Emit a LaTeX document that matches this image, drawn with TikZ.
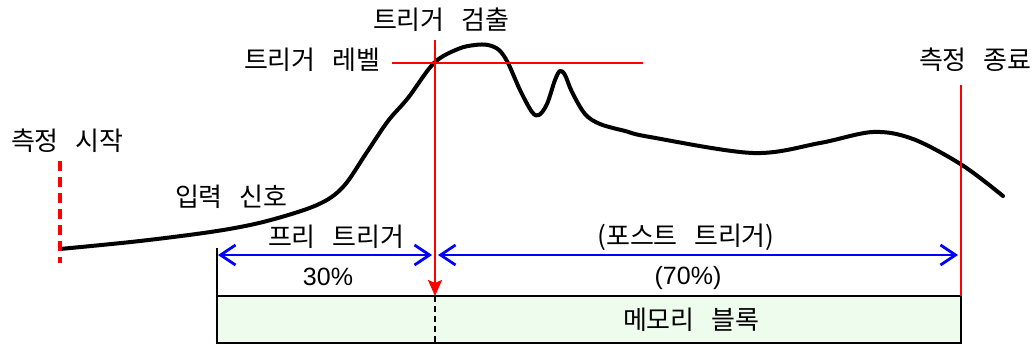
\documentclass[tikz,border=0pt]{standalone}
\usepackage{fontspec}
\newfontfamily\kr[WordSpace=2.8]{Noto Sans CJK KR}
\newfontfamily\ar{Liberation Sans}
\usetikzlibrary{arrows.meta}
\definecolor{memfill}{RGB}{238,252,238}
\definecolor{myred}{RGB}{255,0,0}
\definecolor{myblue}{RGB}{0,0,255}
\tikzset{
  lbl/.style={font=\kr\fontsize{26}{30}\selectfont, inner sep=0pt},
  num/.style={font=\ar\fontsize{25}{28}\selectfont, inner sep=0pt},
  sig/.style={line width=4pt, line join=round, line cap=round},
  redline/.style={myred, line width=2.5pt},
  bluearr/.style={myblue, line width=2.8pt, {Straight Barb[length=15pt,width=20pt,line width=2.8pt]}-{Straight Barb[length=15pt,width=20pt,line width=2.8pt]}},
  memblock/.style={draw=black, fill=memfill, line width=2.8pt, outer sep=0pt}
}
\begin{document}
\begin{tikzpicture}[x=1pt,y=-1pt]
\useasboundingbox (0,0) rectangle (1034,345);
% memory block
\node[memblock, minimum width=744pt, minimum height=47pt, anchor=north west, inner sep=0pt] (mem) at (217,296) {};
\node[lbl] (memtxt) at (691,320) {메모리 블록};
\coordinate (mtop) at (435,296);
\coordinate (mbot) at (435,343);
\draw[black, line width=2.5pt, dash pattern=on 6pt off 4pt] (mtop) -- (mbot);
% left bar
\coordinate (lbtop) at (217,248);
\draw[black, line width=2.8pt] (lbtop) -- (mem.north west);
% signal
\draw[sig] plot[smooth, tension=0.55] coordinates {
 (60,249) (140,241) (217,231) (267,221) (317,205) (343,187) (367,152) (388,121) (408,98) (434,63) (458,49) (475,45) (488,45) (499,50) (508,63) (520,90) (532,112) (539,115) (547,104) (555,80) (560,71) (565,75) (572,92) (585,114) (600,124) (625,131) (650,137) (753,153) (820,143) (873,132) (913,139) (962,165) (1003,196)};
% measurement start
\coordinate (ms1) at (60,161);
\coordinate (ms2) at (60,263);
\draw[myred, line width=4pt, dash pattern=on 10pt off 6pt] (ms1) -- (ms2);
\node[lbl] (mstart) at (67,141) {측정 시작};
% trigger level
\coordinate (tl1) at (392,63);
\coordinate (tl2) at (643,63);
\draw[redline] (tl1) -- (tl2);
\node[lbl] (tlev) at (312,60) {트리거 레벨};
% trigger detect
\coordinate (td) at (435,40);
\draw[redline, -{Stealth[length=16pt,width=14pt,inset=3pt]}] (td) -- (mtop);
\node[lbl] (tdet) at (441,20) {트리거 검출};
% measurement end
\coordinate (me) at (961,85);
\coordinate (mne) at (961,296);
\draw[redline] (me) -- (mne);
\node[lbl] (mend) at (975,60) {측정 종료};
% input signal label
\node[lbl] (insig) at (231,197) {입력 신호};
% arrows
\coordinate (pa) at (218,255);
\coordinate (pb) at (432,255);
\coordinate (qa) at (438,255);
\coordinate (qb) at (958,255);
\draw[bluearr] (pa) -- (pb);
\draw[bluearr] (qa) -- (qb);
\node[lbl] (pre) at (336,237) {프리 트리거};
\node[num] (p30) at (328,277) {30\%};
\node[lbl] (post) at (686,237) {(포스트 트리거)};
\node[num] (p70) at (688,278) {(70\%)};
\end{tikzpicture}
\end{document}
